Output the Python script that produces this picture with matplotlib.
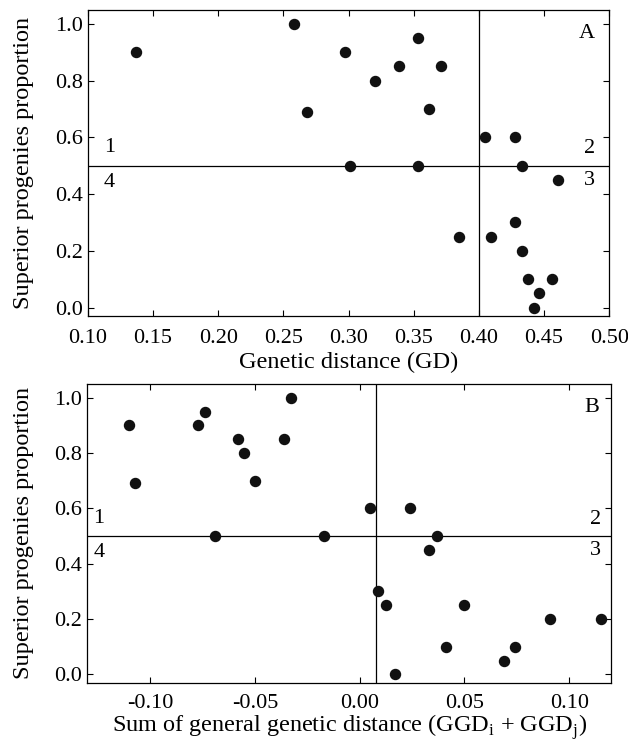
import matplotlib
matplotlib.use("Agg")
import matplotlib.pyplot as plt

plt.rcParams['font.family'] = ['Liberation Serif', 'DejaVu Serif']
plt.rcParams['mathtext.fontset'] = 'custom'
plt.rcParams['mathtext.rm'] = 'Liberation Serif'

# 패널 A: 유전 거리(GD) vs 우량 후대 비율
gd = [0.137, 0.258, 0.268, 0.297, 0.320, 0.301, 0.339, 0.353, 0.371, 0.362,
      0.353, 0.405, 0.428, 0.433, 0.461, 0.428, 0.385, 0.409, 0.433, 0.438,
      0.456, 0.446, 0.442]
prop_a = [0.90, 1.00, 0.69, 0.90, 0.80, 0.50, 0.85, 0.95, 0.85, 0.70,
          0.50, 0.60, 0.60, 0.50, 0.45, 0.30, 0.25, 0.25, 0.20, 0.10,
          0.10, 0.05, 0.00]

# 패널 B: 일반 유전 거리 합 (GGDi + GGDj)
ggd = [-0.110, -0.107, -0.077, -0.074, -0.058, -0.055, -0.050, -0.036, -0.033,
       -0.069, -0.017, 0.005, 0.024, 0.037, 0.033, 0.009, 0.0125, 0.050,
       0.091, 0.115, 0.041, 0.074, 0.069, 0.017]
prop_b = [0.90, 0.69, 0.90, 0.95, 0.85, 0.80, 0.70, 0.85, 1.00,
          0.50, 0.50, 0.60, 0.60, 0.50, 0.45, 0.30, 0.25, 0.25,
          0.20, 0.20, 0.10, 0.10, 0.05, 0.00]

gd_cut = 0.40
ggd_cut = 0.008
prop_cut = 0.5

fs = 16
lfs = 17.5
fig = plt.figure(figsize=(6.28, 7.42), dpi=100)
ax1 = fig.add_axes([0.140, 0.574, 0.830, 0.413])
ax2 = fig.add_axes([0.139, 0.080, 0.834, 0.4026])


def style(ax, xpad=9):
    ax.tick_params(direction='in', top=True, right=True, length=4,
                   width=0.8, labelsize=fs)
    ax.tick_params(axis='x', pad=xpad)
    ax.tick_params(axis='y', pad=3.5)
    for s in ax.spines.values():
        s.set_linewidth(0.9)
    ax.set_ylim(-0.03, 1.05)
    ax.set_yticks([0.0, 0.2, 0.4, 0.6, 0.8, 1.0])
    ax.set_yticklabels(['0.0', '0.2', '0.4', '0.6', '0.8', '1.0'])
    ax.set_ylabel('Superior progenies proportion', fontsize=lfs, labelpad=15)


# A
ax1.scatter(gd, prop_a, s=52, color='#111111', zorder=3)
ax1.axhline(prop_cut, color='black', lw=0.9)
ax1.axvline(gd_cut, color='black', lw=0.9)
ax1.set_xlim(0.10, 0.50)
ax1.set_xticks([0.10, 0.15, 0.20, 0.25, 0.30, 0.35, 0.40, 0.45, 0.50])
ax1.set_xticklabels(['0.10', '0.15', '0.20', '0.25', '0.30', '0.35', '0.40', '0.45', '0.50'])
style(ax1)
ax1.set_xlabel('Genetic distance (GD)', fontsize=lfs, labelpad=3)
ax1.text(0.1164, 0.565, '1', fontsize=fs, ha='center', va='center')
ax1.text(0.1164, 0.441, '4', fontsize=fs, ha='center', va='center')
ax1.text(0.485, 0.559, '2', fontsize=fs, ha='center', va='center')
ax1.text(0.485, 0.447, '3', fontsize=fs, ha='center', va='center')
ax1.text(0.483, 0.967, 'A', fontsize=fs, ha='center', va='center')

# B
ax2.scatter(ggd, prop_b, s=52, color='#111111', zorder=3)
ax2.axhline(prop_cut, color='black', lw=0.9)
ax2.axvline(ggd_cut, color='black', lw=0.9)
ax2.set_xlim(-0.13, 0.12)
ax2.set_xticks([-0.10, -0.05, 0.00, 0.05, 0.10])
ax2.set_xticklabels(['-0.10', '-0.05', '0.00', '0.05', '0.10'])
style(ax2, xpad=8)
ax2.set_xlabel(r'Sum of general genetic distance (GGD$_\mathregular{i}$ + GGD$_\mathregular{j}$)',
               fontsize=lfs, labelpad=0)
ax2.text(-0.1245, 0.565, '1', fontsize=fs, ha='center', va='center')
ax2.text(-0.1245, 0.441, '4', fontsize=fs, ha='center', va='center')
ax2.text(0.1125, 0.559, '2', fontsize=fs, ha='center', va='center')
ax2.text(0.1125, 0.447, '3', fontsize=fs, ha='center', va='center')
ax2.text(0.111, 0.963, 'B', fontsize=fs, ha='center', va='center')

fig.savefig('out.png', dpi=100)
